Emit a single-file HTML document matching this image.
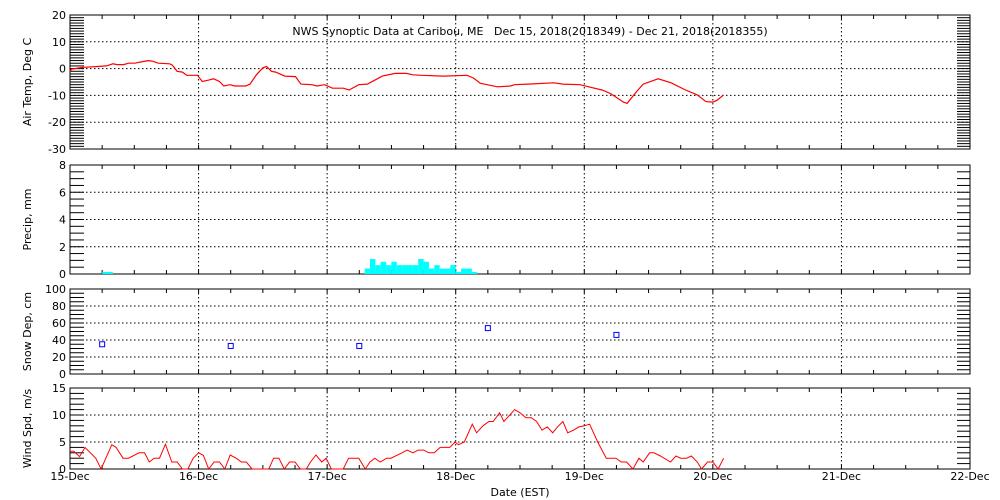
<!DOCTYPE html>
<html><head><meta charset="utf-8"><style>
body{margin:0;background:#fff;}
svg{display:block;font-family:"DejaVu Sans","Liberation Sans",sans-serif;}
text{font-size:11px;fill:#000;}
</style></head><body>
<svg id="c" width="1000" height="500"></svg>
<script>
const dayLabels=["15-Dec","16-Dec","17-Dec","18-Dec","19-Dec","20-Dec","21-Dec","22-Dec"];
const tempHours=[0,0.3,2.4,5.2,6.8,8,8.8,10,10.9,12.1,13.3,14.5,15.3,16.5,18.6,19.1,20,21,21.8,23.8,24.7,25.9,26.8,27.9,28.7,29.9,30.7,32.8,33.6,34.8,36,36.7,37.6,38.4,40.1,42.1,43.1,45.2,46.1,47.5,49,51,52.1,53.9,55.5,56.7,58.3,60.7,62.8,64,65.6,69.7,74.1,75.3,76.6,79.8,82.2,83,85.5,90.3,92,95.2,96.8,99.3,100.9,103.3,104,105.8,107,109.8,112.2,114.7,117.1,118.7,120,120.8,122];
const tempVals=[-1,-0.2,0.5,0.8,1,1.8,1.5,1.5,2,2,2.5,3,2.8,2,1.8,1.3,-1,-1.3,-2.5,-2.5,-4.8,-4.3,-3.8,-4.8,-6.5,-6,-6.5,-6.5,-5.8,-2.3,0.3,0.8,-1,-1.3,-2.8,-3,-5.8,-6,-6.5,-6,-7.3,-7.3,-8,-6,-5.8,-4.5,-2.8,-1.8,-1.8,-2.3,-2.5,-2.8,-2.5,-3.5,-5.5,-6.8,-6.5,-6,-5.8,-5.3,-5.8,-6,-6.8,-8,-9.3,-12.5,-13,-8.5,-5.8,-3.8,-5.3,-7.8,-9.8,-12.3,-12.5,-11.8,-9.8];
const precipHours=[6,7,55,56,57,58,59,60,61,62,63,64,65,66,67,68,69,70,71,72,73,74,75];
const precipVals=[0.15,0.15,0.4,1.1,0.65,0.9,0.65,0.9,0.65,0.65,0.65,0.65,1.1,0.9,0.4,0.65,0.4,0.4,0.65,0.15,0.4,0.4,0.15];
const snowHours=[6,30,54,78,102];
const snowVals=[35,33,33,54,46];
const windHours=[0,0.7,1.8,2.8,4.8,5.8,7.8,8.6,9.9,10.9,12.9,13.9,14.8,15.7,16.7,17.8,19,20,21,22,23,24,24.9,25.9,26.9,27.9,28.9,29.9,31,32,32.9,34,37.1,38,39,40,41,42,43,44.1,44.9,45.9,47,47.8,48.8,51,52,53.9,55.1,56,56.9,57.9,59.1,59.9,62,62.9,64,65,66,67,68,69.1,70.9,71.9,72.5,73.6,75.1,75.9,77.1,78.2,79,80.2,81,83,84,85.1,86.1,87.1,88.1,89.1,90.1,91,92,92.9,94,95,96,97,98.5,100.1,100.9,101.9,102.9,103.9,105.1,106.2,107,108.2,109,110.2,112.1,113.1,114,115.1,116,117.1,117.9,119,120,121,122];
const windVals=[3.3,3.3,2.3,4,2,0,4.5,4,2,2,3,3,1.3,2,2,4.6,1.3,1.3,0,0,2,3,2.5,0,1.3,1.3,0,2.6,2,1.3,1.3,0,0,2,2,0,1.3,1.3,0,0,1.3,2.6,1.3,2,0,0,2,2,0,1.3,2,1.3,2,2,3,3.5,3,3.5,3.5,3,3,4,4,5,4.5,5,8.3,6.7,8,8.8,8.8,10.4,8.8,11,10.4,9.5,9.5,8.8,7.2,7.8,6.7,7.8,8.8,6.7,7.2,7.8,8,8.3,5,2,2,2,1.3,1.3,0,2,1.3,3,3,2.4,1.3,2.4,2,2,2.4,1.3,0,1.3,1.3,0,2];

const svg=document.getElementById('c');const NS='http://www.w3.org/2000/svg';
function el(t,a,p){const e=document.createElementNS(NS,t);for(const k in a)e.setAttribute(k,a[k]);(p||svg).appendChild(e);return e;}
const X0=70,X1=970;
const x=h=>X0+h/168*(X1-X0);
const panels=[
 {name:'air-temp-panel',top:15,bot:149,min:-30,max:20,minor:1,label:'Air Temp, Deg C',ticks:[20,10,0,-10,-20,-30]},
 {name:'precip-panel',top:165,bot:274,min:0,max:8,minor:0.5,label:'Precip, mm',ticks:[8,6,4,2,0]},
 {name:'snow-depth-panel',top:289,bot:374,min:0,max:100,minor:5,label:'Snow Dep, cm',ticks:[100,80,60,40,20,0]},
 {name:'wind-speed-panel',top:388,bot:469,min:0,max:15,minor:1,label:'Wind Spd, m/s',ticks:[15,10,5,0]}];
panels.forEach(P=>{
 P.y=v=>P.bot-(v-P.min)/(P.max-P.min)*(P.bot-P.top);
 const g=el('g',{});  
 for(let d=1;d<7;d++){const l=el('line',{x1:x(d*24),x2:x(d*24),y1:P.top,y2:P.bot,stroke:'#000','stroke-dasharray':'1.5,2.5','stroke-width':1},g);
  }
 P.ticks.forEach(t=>{
  if(t!==P.min&&t!==P.max){const l=el('line',{x1:X0,x2:X1,y1:P.y(t),y2:P.y(t),stroke:'#000','stroke-dasharray':'1.5,2.5'},g);
   }
  const tx=el('text',{x:X0-4,y:P.y(t)+4,'text-anchor':'end'},g);tx.textContent=t;
  
 });
 for(let v=P.min;v<=P.max+1e-9;v+=P.minor){const yy=P.y(v);
  el('line',{x1:X0,x2:X0+14,y1:yy,y2:yy,stroke:'#000'},g);
  el('line',{x1:X1-13,x2:X1,y1:yy,y2:yy,stroke:'#000'},g);}
 for(let h=6;h<168;h+=6){el('line',{x1:x(h),x2:x(h),y1:P.top,y2:P.top+4,stroke:'#000'},g);el('line',{x1:x(h),x2:x(h),y1:P.bot,y2:P.bot-4,stroke:'#000'},g);}
 el('rect',{x:X0,y:P.top,width:X1-X0,height:P.bot-P.top,fill:'none',stroke:'#000'},g);
 const cy=(P.top+P.bot)/2;
 const yl=el('text',{x:0,y:0,'text-anchor':'middle','font-size':'12',transform:`translate(31,${cy}) rotate(-90)`},g);yl.textContent=P.label;
 
});
const [PT,PP,PS,PW]=panels;
let d=tempHours.map((h,i)=>(i?'L':'M')+x(h).toFixed(1)+','+PT.y(tempVals[i]).toFixed(1)).join('');
const tl=el('path',{d:d,fill:'none',stroke:'#f00','stroke-width':1.2});

precipHours.forEach((h,i)=>{const b=el('rect',{x:x(h),y:PP.y(precipVals[i]),width:x(h+1)-x(h),height:PP.y(0)-PP.y(precipVals[i]),fill:'#0ff'});
 });
snowHours.forEach((h,i)=>{const r=el('rect',{x:x(h)-2.5,y:PS.y(snowVals[i])-2.5,width:5,height:5,fill:'none',stroke:'#00f'});
 });
d=windHours.map((h,i)=>(i?'L':'M')+x(h).toFixed(1)+','+PW.y(windVals[i]).toFixed(1)).join('');
const wl=el('path',{d:d,fill:'none',stroke:'#f00','stroke-width':1});

dayLabels.forEach((s,i)=>{const t=el('text',{x:x(i*24),y:480,'text-anchor':'middle'});t.textContent=s;
 });
const xt=el('text',{x:520,y:496,'text-anchor':'middle','font-size':'12'});xt.textContent='Date (EST)';

const tt=el('text',{x:530,y:35,'text-anchor':'middle','font-size':'13.5'});
tt.setAttribute('style','white-space:pre');
tt.textContent='NWS Synoptic Data at Caribou, ME   Dec 15, 2018(2018349) - Dec 21, 2018(2018355)';

</script>
</body></html>
